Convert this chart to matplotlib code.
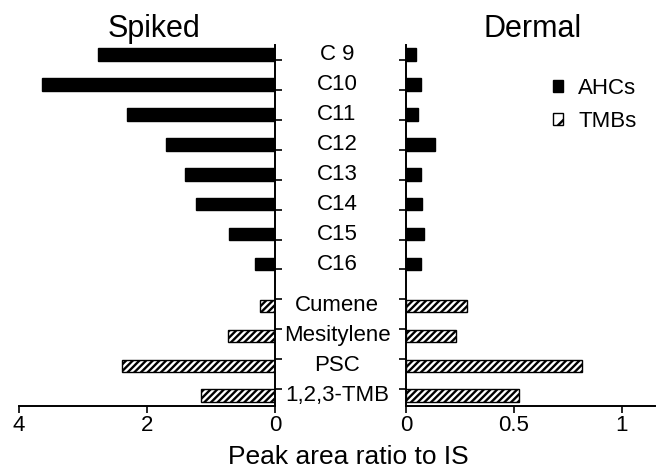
import numpy as np
import matplotlib
matplotlib.use("Agg")
import matplotlib.pyplot as plt
import matplotlib.transforms as mtransforms
from matplotlib.patches import Patch

plt.rcParams["font.family"] = ["Liberation Sans", "DejaVu Sans"]
plt.rcParams["hatch.linewidth"] = 1.7

# data
ahc_labels = ["C 9", "C10", "C11", "C12", "C13", "C14", "C15", "C16"]
tmb_labels = ["Cumene", "Mesitylene", "PSC", "1,2,3-TMB"]
spiked_ahc = [2.76, 3.64, 2.32, 1.71, 1.41, 1.23, 0.72, 0.31]
spiked_tmb = [0.23, 0.73, 2.39, 1.15]
dermal_ahc = [0.046, 0.068, 0.054, 0.134, 0.069, 0.075, 0.082, 0.069]
dermal_tmb = [0.281, 0.23, 0.813, 0.523]

# row positions (gap between the two groups)
ahc_pos = np.arange(len(ahc_labels))
tmb_pos = 8.4 + np.arange(len(tmb_labels))
bar_h = 0.42

fig = plt.figure(figsize=(6.56, 4.68), dpi=100)
ax1 = fig.add_axes([19 / 656, 1 - 405.6 / 468, 256 / 656, 360.6 / 468])
ax2 = fig.add_axes([406 / 656, 1 - 405.6 / 468, 249 / 656, 360.6 / 468])

for ax, a_vals, t_vals in [(ax1, spiked_ahc, spiked_tmb), (ax2, dermal_ahc, dermal_tmb)]:
    ax.barh(ahc_pos, a_vals, height=bar_h, color="black", edgecolor="black", linewidth=1)
    ax.barh(tmb_pos, t_vals, height=bar_h, color="white", edgecolor="black",
            linewidth=1, hatch="/////")
    ax.set_ylim(11.73, -0.32)
    ax.set_yticks(0.18 + np.arange(12))
    ax.set_yticklabels([])
    ax.tick_params(axis="both", direction="out", length=5, width=1.2, labelsize=16, pad=2)
    for s in ax.spines.values():
        s.set_linewidth(1.4)
    ax.spines["top"].set_visible(False)

ax1.set_xlim(4, 0)
ax1.set_xticks([4, 2, 0])
ax1.set_xticklabels(["4", "2", "0"])
ax1.spines["left"].set_visible(False)
ax1.yaxis.tick_right()

ax2.set_xlim(0, 1.153)
ax2.set_xticks([0, 0.5, 1])
ax2.set_xticklabels(["0", "0.5", "1"])
ax2.spines["right"].set_visible(False)

# category labels between the panels
trans = mtransforms.blended_transform_factory(fig.transFigure, ax1.transData)
for lab, y in zip(ahc_labels + tmb_labels, list(ahc_pos) + list(tmb_pos)):
    fig.text(337 / 656, y, lab, transform=trans, ha="center", va="center", fontsize=16)

fig.text(154 / 656, 1 - 37 / 468, "Spiked", ha="center", va="baseline", fontsize=22)
fig.text(533 / 656, 1 - 37 / 468, "Dermal", ha="center", va="baseline", fontsize=22)
fig.text(348 / 656, 1 - 464 / 468, "Peak area ratio to IS", ha="center", va="baseline", fontsize=19)

handles = [Patch(facecolor="black", edgecolor="black", label="AHCs"),
           Patch(facecolor="white", edgecolor="black", hatch="//", label="TMBs")]
fig.legend(handles=handles, loc="upper left", bbox_to_anchor=(544 / 656, 1 - 69 / 468),
           frameon=False, fontsize=16, handlelength=0.45, handleheight=0.45,
           handletextpad=0.7, labelspacing=0.55, borderaxespad=0)

fig.savefig("out.png", dpi=100)
